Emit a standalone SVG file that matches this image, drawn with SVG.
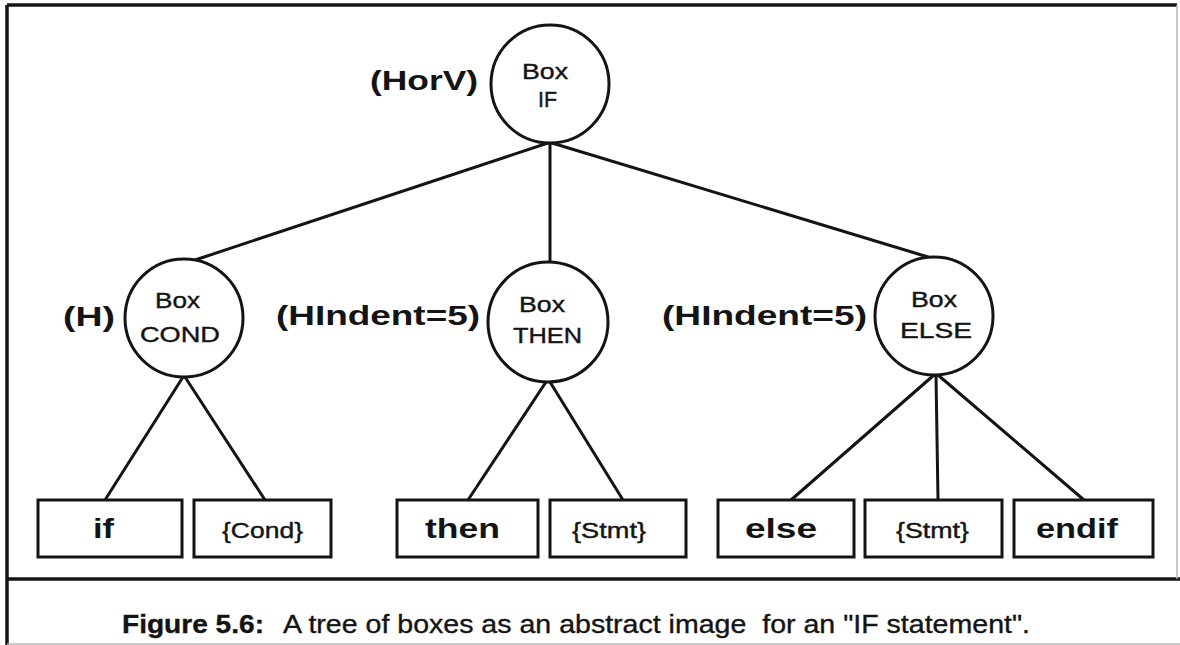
<svg xmlns="http://www.w3.org/2000/svg" width="1180" height="645" viewBox="0 0 1180 645">
<style>
.frame{fill:none;stroke:#141414;stroke-width:3.5}
.faint{fill:none;stroke:#b8b8b8;stroke-width:1.5}
.node{fill:#fff;stroke:#141414;stroke-width:3}
.conn line{stroke:#141414;stroke-width:3;stroke-linecap:round}
.lbl{font-family:"Liberation Sans",Arial,sans-serif;font-weight:bold;font-size:28px;fill:#141414}
.in{font-family:"Liberation Sans",Arial,sans-serif;font-size:22px;fill:#141414;stroke:#141414;stroke-width:0.4}
.kw{font-family:"Liberation Sans",Arial,sans-serif;font-weight:bold;font-size:28px;fill:#141414}
.ph{font-family:"Liberation Sans",Arial,sans-serif;font-size:22px;fill:#141414;stroke:#141414;stroke-width:0.4}
.cap{font-family:"Liberation Sans",Arial,sans-serif;font-size:25px;fill:#141414;stroke:#141414;stroke-width:0.35;white-space:pre}
</style>
<rect width="1180" height="645" fill="#fff"/>
<g id="frame">
<line class="frame" x1="7" y1="5" x2="1177" y2="5"/>
<line class="frame" x1="7" y1="5" x2="7" y2="645"/>
<line class="frame" x1="7" y1="579" x2="1180" y2="579"/>
<line class="faint" x1="1177" y1="5" x2="1177" y2="579"/>
<line class="faint" x1="7" y1="644" x2="1180" y2="644"/>
</g>
<g id="connectors" class="conn">
<line x1="548" y1="143" x2="195" y2="260"/>
<line x1="550" y1="143" x2="550" y2="263"/>
<line x1="552" y1="143" x2="928" y2="257"/>
<line x1="183" y1="377" x2="105" y2="500"/>
<line x1="185" y1="377" x2="265" y2="500"/>
<line x1="546" y1="382" x2="468" y2="500"/>
<line x1="550" y1="382" x2="623" y2="500"/>
<line x1="934" y1="375" x2="791" y2="500"/>
<line x1="936" y1="375" x2="938" y2="500"/>
<line x1="938" y1="375" x2="1084" y2="500"/>
</g>
<g id="node-if-box">
<circle class="node" cx="550" cy="84" r="59"/>
<text class="in" x="522" y="79" textLength="46" lengthAdjust="spacingAndGlyphs">Box</text>
<text class="in" x="538" y="107" textLength="19" lengthAdjust="spacingAndGlyphs">IF</text>
<text class="lbl" x="370" y="90" textLength="108" lengthAdjust="spacingAndGlyphs">(HorV)</text>
</g>
<g id="node-cond-box">
<circle class="node" cx="184" cy="318" r="59"/>
<text class="in" x="155" y="308" textLength="45" lengthAdjust="spacingAndGlyphs">Box</text>
<text class="in" x="140" y="342" textLength="80" lengthAdjust="spacingAndGlyphs">COND</text>
<text class="lbl" x="63" y="326" textLength="52" lengthAdjust="spacingAndGlyphs">(H)</text>
</g>
<g id="node-then-box">
<circle class="node" cx="548" cy="322" r="60"/>
<text class="in" x="519" y="312" textLength="46" lengthAdjust="spacingAndGlyphs">Box</text>
<text class="in" x="513" y="343" textLength="69" lengthAdjust="spacingAndGlyphs">THEN</text>
<text class="lbl" x="276" y="325" textLength="204" lengthAdjust="spacingAndGlyphs">(HIndent=5)</text>
</g>
<g id="node-else-box">
<circle class="node" cx="934" cy="316" r="59"/>
<text class="in" x="911" y="307" textLength="46" lengthAdjust="spacingAndGlyphs">Box</text>
<text class="in" x="900" y="338" textLength="72" lengthAdjust="spacingAndGlyphs">ELSE</text>
<text class="lbl" x="662" y="325" textLength="205" lengthAdjust="spacingAndGlyphs">(HIndent=5)</text>
</g>
<g id="leaf-if">
<rect class="node" x="38" y="500" width="144" height="57"/>
<text class="kw" x="93" y="538" textLength="21" lengthAdjust="spacingAndGlyphs">if</text>
</g>
<g id="leaf-cond">
<rect class="node" x="194" y="500" width="137" height="57"/>
<text class="ph" x="222" y="538" textLength="81" lengthAdjust="spacingAndGlyphs">{Cond}</text>
</g>
<g id="leaf-then">
<rect class="node" x="397" y="500" width="141" height="57"/>
<text class="kw" x="425" y="538" textLength="75" lengthAdjust="spacingAndGlyphs">then</text>
</g>
<g id="leaf-stmt1">
<rect class="node" x="550" y="500" width="136" height="57"/>
<text class="ph" x="572" y="538" textLength="74" lengthAdjust="spacingAndGlyphs">{Stmt}</text>
</g>
<g id="leaf-else">
<rect class="node" x="718" y="500" width="136" height="57"/>
<text class="kw" x="745" y="538" textLength="72" lengthAdjust="spacingAndGlyphs">else</text>
</g>
<g id="leaf-stmt2">
<rect class="node" x="865" y="500" width="137" height="57"/>
<text class="ph" x="896" y="538" textLength="73" lengthAdjust="spacingAndGlyphs">{Stmt}</text>
</g>
<g id="leaf-endif">
<rect class="node" x="1014" y="500" width="139" height="57"/>
<text class="kw" x="1036" y="538" textLength="82" lengthAdjust="spacingAndGlyphs">endif</text>
</g>
<g id="caption">
<text class="cap" x="122" y="633" font-weight="bold" textLength="142" lengthAdjust="spacingAndGlyphs">Figure 5.6:</text>
<text class="cap" x="283" y="633" textLength="747" lengthAdjust="spacingAndGlyphs">A tree of boxes as an abstract image  for an "IF statement".</text>
</g>
</svg>
